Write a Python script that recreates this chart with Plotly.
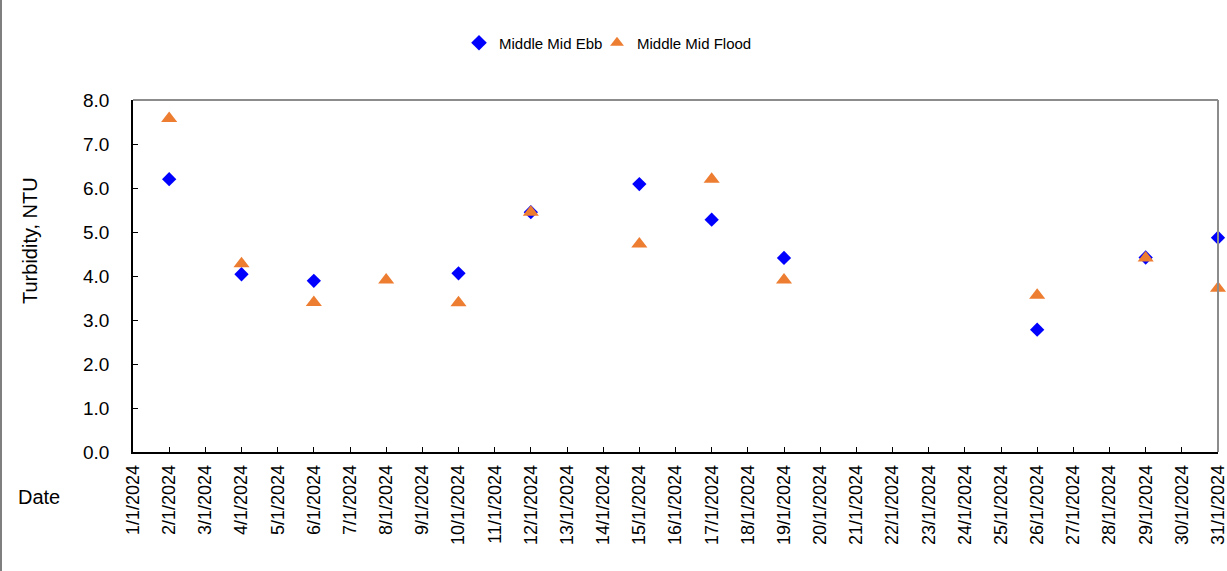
import plotly.graph_objects as go

ebb_dates = ["2024-01-02", "2024-01-04", "2024-01-06", "2024-01-10", "2024-01-12",
             "2024-01-15", "2024-01-17", "2024-01-19", "2024-01-26", "2024-01-29", "2024-01-31"]
ebb_values = [6.20, 4.04, 3.89, 4.06, 5.45, 6.09, 5.28, 4.41, 2.78, 4.42, 4.87]

flood_dates = ["2024-01-02", "2024-01-04", "2024-01-06", "2024-01-08", "2024-01-10", "2024-01-12",
               "2024-01-15", "2024-01-17", "2024-01-19", "2024-01-26", "2024-01-29", "2024-01-31"]
flood_values = [7.58, 4.28, 3.40, 3.91, 3.39, 5.45, 4.73, 6.20, 3.91, 3.56, 4.41, 3.72]

tick_dates = ["2024-01-%02d" % d for d in range(1, 32)]
tick_labels = ["%d/1/2024" % d for d in range(1, 32)]
y_ticks = [0, 1, 2, 3, 4, 5, 6, 7, 8]

FONT = "Liberation Sans, Arial, sans-serif"

fig = go.Figure()
fig.add_trace(go.Scatter(
    x=ebb_dates, y=ebb_values, mode="markers", name="Middle Mid Ebb",
    marker=dict(symbol="diamond", size=11, color="#0000FF"), cliponaxis=False,
    legend="legend"))
fig.add_trace(go.Scatter(
    x=flood_dates, y=flood_values, mode="markers", name="Middle Mid Flood",
    marker=dict(symbol="triangle-up", size=14, color="#ED7D31"), cliponaxis=False,
    legend="legend2"))

leg_common = dict(orientation="h", xref="container", yref="container",
                  y=1 - 43 / 571, xanchor="left", yanchor="middle",
                  font=dict(size=15, family=FONT), itemsizing="constant",
                  bgcolor="rgba(0,0,0,0)", itemwidth=30)

fig.update_layout(
    width=1227, height=571,
    margin=dict(l=133, r=9, t=100, b=119, autoexpand=False),
    paper_bgcolor="white", plot_bgcolor="white",
    font=dict(family=FONT, color="black"),
    showlegend=True,
    legend=dict(x=459 / 1227, **leg_common),
    legend2=dict(x=597 / 1227, **leg_common),
    xaxis=dict(
        type="date", range=["2024-01-01", "2024-01-31"],
        tickmode="array", tickvals=tick_dates, ticktext=tick_labels,
        tickangle=-90, tickfont=dict(size=18, family=FONT),
        ticks="inside", ticklen=5, tickcolor="black", tickwidth=1,
        ticklabelstandoff=4, ticklabeloverflow="allow", automargin=False,
        showline=True, linecolor="black", linewidth=1.5,
        showgrid=False, zeroline=False, fixedrange=True),
    yaxis=dict(
        range=[0, 8], tickmode="array", tickvals=y_ticks, tickformat=".1f",
        tickfont=dict(size=19, family=FONT),
        ticks="inside", ticklen=5, tickcolor="black", tickwidth=1,
        ticklabelstandoff=18, automargin=False,
        showline=True, linecolor="black", linewidth=1.5,
        showgrid=False, zeroline=False, fixedrange=True),
    annotations=[
        dict(text="Turbidity, NTU", xref="paper", yref="paper",
             x=(30 - 133) / 1085, y=(452 - 241) / 352, textangle=-90,
             showarrow=False, font=dict(size=20, family=FONT),
             xanchor="center", yanchor="middle"),
        dict(text="Date", xref="paper", yref="paper",
             x=(39 - 133) / 1085, y=(452 - 497) / 352,
             showarrow=False, font=dict(size=20, family=FONT),
             xanchor="center", yanchor="middle"),
    ],
    shapes=[
        dict(type="line", xref="paper", yref="paper", x0=0, x1=1, y0=1, y1=1,
             line=dict(color="#8C8C8C", width=2)),
        dict(type="line", xref="paper", yref="paper", x0=1, x1=1, y0=0, y1=1,
             line=dict(color="#8C8C8C", width=2)),
        dict(type="line", xref="paper", yref="paper",
             x0=(1 - 133) / 1085, x1=(1 - 133) / 1085,
             y0=(452 - 571) / 352, y1=(452 - 0) / 352,
             line=dict(color="#555555", width=1.5)),
    ],
)

fig.write_html("out.html", config={"displayModeBar": False},
               post_script="document.body.style.margin='0';document.body.style.overflow='hidden';")
